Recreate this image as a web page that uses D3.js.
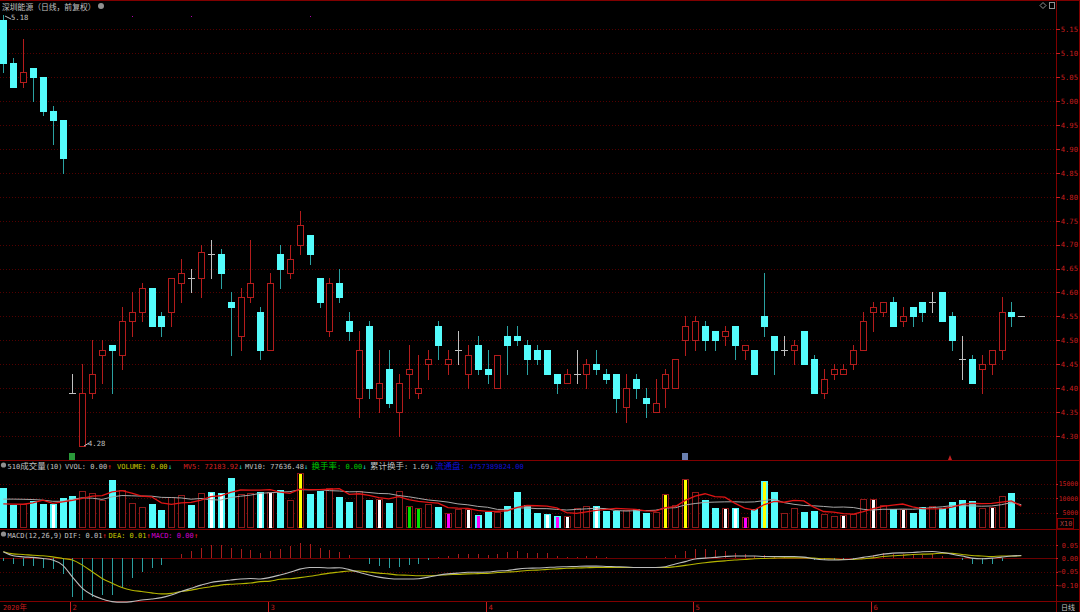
<!DOCTYPE html>
<html><head><meta charset="utf-8">
<script src="https://cdn.jsdelivr.net/npm/d3@7"></script>
<style>body{margin:0;background:#000;overflow:hidden}svg{display:block}</style>
</head><body>
<svg id="c" width="1080" height="612"></svg>
<script>
// ---------------- DATA ----------------
const opens = [5.17,5.08,5.04,5.07,5.05,4.98,4.96,4.39,4.28,4.39, 4.47,4.49,4.47,4.54,4.56,4.61,4.55,4.56,4.62,4.63, 4.63,4.68,4.68,4.58,4.51,4.59,4.56,4.48,4.68,4.64, 4.70,4.72,4.63,4.52,4.62,4.54,4.38,4.53,4.38,4.44, 4.35,4.43,4.39,4.45,4.53,4.45,4.48,4.43,4.49,4.44, 4.40,4.51,4.51,4.49,4.48,4.48,4.43,4.41,4.43,4.43, 4.45,4.43,4.43,4.36,4.42,4.38,4.35,4.40,4.40,4.50, 4.50,4.53,4.52,4.51,4.53,4.48,4.48,4.55,4.51,4.48, 4.48,4.52,4.46,4.39,4.43,4.43,4.45,4.48,4.56,4.56, 4.58,4.54,4.57,4.58,4.58,4.60,4.55,4.46,4.46,4.44, 4.45,4.48,4.56,4.55];
const highs = [5.18,5.09,5.13,5.07,5.05,4.99,4.96,4.43,4.45,4.50, 4.50,4.49,4.57,4.60,4.62,4.61,4.56,4.63,4.67,4.65, 4.70,4.71,4.69,4.60,4.61,4.71,4.57,4.64,4.70,4.70, 4.77,4.72,4.63,4.63,4.65,4.56,4.52,4.54,4.48,4.48, 4.43,4.49,4.47,4.48,4.54,4.48,4.52,4.49,4.51,4.48, 4.47,4.53,4.53,4.50,4.49,4.48,4.43,4.44,4.48,4.46, 4.48,4.44,4.43,4.43,4.43,4.40,4.42,4.44,4.46,4.55, 4.55,4.54,4.52,4.53,4.53,4.49,4.48,4.64,4.51,4.51, 4.50,4.52,4.47,4.44,4.45,4.45,4.49,4.56,4.58,4.58, 4.59,4.57,4.57,4.58,4.60,4.60,4.56,4.51,4.47,4.47, 4.48,4.59,4.58,4.55];
const lows = [5.06,5.03,5.03,5.00,4.97,4.91,4.85,4.39,4.28,4.38, 4.41,4.39,4.44,4.51,4.54,4.53,4.51,4.53,4.58,4.60, 4.59,4.63,4.61,4.47,4.48,4.58,4.46,4.48,4.61,4.63, 4.68,4.66,4.57,4.51,4.58,4.50,4.34,4.38,4.35,4.36, 4.30,4.38,4.38,4.42,4.46,4.43,4.45,4.40,4.43,4.41, 4.40,4.43,4.49,4.43,4.45,4.43,4.39,4.41,4.41,4.40, 4.43,4.41,4.35,4.33,4.38,4.34,4.35,4.36,4.40,4.47, 4.48,4.48,4.48,4.49,4.46,4.46,4.43,4.51,4.43,4.47, 4.45,4.45,4.39,4.38,4.42,4.43,4.44,4.48,4.52,4.55, 4.53,4.53,4.53,4.54,4.56,4.54,4.48,4.42,4.41,4.39, 4.43,4.46,4.53,4.55];
const closes = [5.08,5.03,5.06,5.05,4.98,4.96,4.88,4.39,4.39,4.43, 4.48,4.48,4.54,4.56,4.61,4.53,4.53,4.63,4.64,4.63, 4.685,4.68,4.64,4.57,4.59,4.62,4.48,4.62,4.65,4.67, 4.74,4.68,4.58,4.62,4.59,4.52,4.48,4.40,4.41,4.37, 4.41,4.44,4.40,4.46,4.49,4.46,4.48,4.47,4.44,4.43, 4.47,4.49,4.50,4.46,4.46,4.43,4.41,4.43,4.43,4.45, 4.44,4.42,4.38,4.40,4.40,4.37,4.37,4.43,4.46,4.53, 4.54,4.50,4.50,4.52,4.49,4.49,4.43,4.53,4.48,4.48, 4.49,4.45,4.39,4.42,4.44,4.44,4.48,4.54,4.57,4.58, 4.53,4.55,4.55,4.56,4.58,4.54,4.50,4.46,4.41,4.45, 4.48,4.56,4.55,4.55];
// volume in axis units (x10)
const volumes = [13470,7670,8130,9170,8020,8130,10000,10800,12540,11740, 9310,16250,12880,8260,6880,8020,5830,10210,11040,7570, 11740,12080,11600,16940,11490,11600,12190,12190,12880,9310, 18680,11390,12290,13470,10350,8820,12540,9410,9650,8370, 12540,7330,6630,7920,7080,4790,6390,6290,4310,5350, 5140,7220,11940,7670,4900,4650,3960,3960,6530,7330, 7220,5690,5490,5940,6180,4790,5350,11490,7670,16700, 12190,9410,6630,6740,6530,3400,6290,16010,12190,5000, 6530,5350,5590,4550,3850,4100,4550,9860,9760,7670, 6290,6290,4790,6980,7330,6740,8610,9510,8960,6740, 7080,10800,11740,0];
const mv5Lead = [8000,7950,7900,8400];
const mv10Lead = [9650,9650,9600,9500,9300,8900,8900,9600,10100];
const whiteMarks = [5,21,22,26,27,38,47,55,57,60,73,74,85,88,91,100];
const yellowMarks = [30,67,69,77];
const greenMarks = [41,42];
const magentaMarks = [45,48,56,75];
const difValues = [0.025,0.010,0.006,0.004,0.000,-0.006,-0.025,-0.070,-0.112,-0.137, -0.152,-0.162,-0.164,-0.162,-0.156,-0.152,-0.147,-0.137,-0.124,-0.112, -0.100,-0.090,-0.085,-0.081,-0.077,-0.075,-0.077,-0.071,-0.062,-0.052, -0.040,-0.034,-0.034,-0.036,-0.035,-0.042,-0.052,-0.062,-0.070,-0.075, -0.077,-0.077,-0.076,-0.070,-0.063,-0.058,-0.055,-0.052,-0.052,-0.051, -0.047,-0.045,-0.040,-0.037,-0.036,-0.034,-0.032,-0.031,-0.030,-0.029, -0.029,-0.030,-0.031,-0.032,-0.034,-0.034,-0.034,-0.031,-0.021,-0.012, -0.002,0.001,0.004,0.007,0.009,0.009,0.009,0.007,0.007,0.007, 0.007,0.005,-0.001,-0.005,-0.006,-0.005,-0.002,0.004,0.009,0.016, 0.020,0.021,0.022,0.025,0.026,0.022,0.016,0.009,0.001,-0.001, 0.001,0.005,0.009,0.011];
const deaValues = [0.025,0.017,0.015,0.012,0.010,0.006,0.000,-0.006,-0.025,-0.050, -0.075,-0.093,-0.109,-0.119,-0.124,-0.129,-0.133,-0.131,-0.124,-0.119, -0.112,-0.106,-0.100,-0.097,-0.095,-0.092,-0.087,-0.085,-0.078,-0.076, -0.072,-0.067,-0.061,-0.055,-0.051,-0.047,-0.047,-0.051,-0.055,-0.058, -0.062,-0.063,-0.065,-0.065,-0.063,-0.061,-0.060,-0.058,-0.057,-0.056, -0.053,-0.051,-0.049,-0.045,-0.044,-0.041,-0.039,-0.037,-0.036,-0.035, -0.034,-0.034,-0.034,-0.034,-0.034,-0.034,-0.034,-0.034,-0.031,-0.026, -0.021,-0.016,-0.012,-0.009,-0.006,-0.004,-0.001,0.000,0.001,0.002, 0.002,0.002,0.001,-0.001,-0.002,-0.004,-0.004,-0.001,0.002,0.007, 0.010,0.012,0.015,0.016,0.017,0.020,0.019,0.015,0.011,0.009, 0.007,0.009,0.009,0.010];
const macdValues = [-0.010,-0.022,-0.027,-0.027,-0.037,-0.041,-0.060,-0.143,-0.156,-0.143, -0.137,-0.137,-0.109,-0.075,-0.050,-0.037,-0.025,0.000,0.015,0.027, 0.040,0.050,0.050,0.040,0.037,0.031,0.022,0.027,0.037,0.047, 0.058,0.055,0.040,0.033,0.025,0.012,0.000,-0.021,-0.029,-0.037, -0.031,-0.024,-0.021,-0.007,0.005,0.010,0.017,0.017,0.016,0.014, 0.017,0.025,0.027,0.022,0.020,0.020,0.010,0.007,0.007,0.010, 0.010,0.007,0.000,0.000,0.000,0.000,0.001,0.005,0.014,0.027, 0.037,0.037,0.033,0.027,0.022,0.017,0.010,0.014,0.010,0.005, 0.002,0.000,-0.007,-0.007,-0.007,-0.005,-0.002,0.005,0.014,0.020, 0.017,0.017,0.014,0.014,0.017,0.010,0.000,-0.007,-0.021,-0.019, -0.019,-0.010,0.000,0.000];
const priceTicks = [4.30,4.35,4.40,4.45,4.50,4.55,4.60,4.65,4.70,4.75,4.80,4.85,4.90,4.95,5.00,5.05,5.10,5.15];
const volTicks = [5000,10000,15000];
const macdTicks = [-0.10,-0.05,0.00,0.05];
const monthIdx = [7,27,49,70,88];
const monthLabels = ["2","3","4","5","6"];
const topDotIdx = [13,19,31];

// ---------------- LAYOUT ----------------
const svg = d3.select('#c');
const AX = 1056;
const N = closes.length;
const x = d3.scaleLinear().domain([0, N-1]).range([3.3, 1021.3]);
const yP = d3.scaleLinear().domain([4.30, 5.15]).range([436, 29.3]);
const yV = d3.scaleLinear().domain([0, 15000]).range([527.3, 483.5]);
const yM = d3.scaleLinear().domain([-0.10, 0.05]).range([585.1, 545.1]);
const cx = i => Math.round(x(i));
const R = v => Math.round(v);

const UP = '#b41c1c', UPV = '#8e1a1a', CY = '#54fcfc', CYW = '#2aa2a2', GR = '#c0c0c0', AXC = '#800000', LBL = '#c81e1e', GRID = '#520000';
const MONO = '"DejaVu Sans Mono",monospace', CJK = '"Noto Sans CJK SC",sans-serif';

// text made of half-width (mono) and full-width (CJK) runs
function txt(g, xx, yy, s, fill, aSize=7, cSize=8.5){
  const t = g.append('text').attr('x',xx).attr('y',yy).attr('fill',fill);
  const runs=[];
  for(const ch of s){const cj=ch.charCodeAt(0)>0x2e80; if(runs.length&&runs[runs.length-1].cj===cj) runs[runs.length-1].s+=ch; else runs.push({cj,s:ch});}
  runs.forEach(r=>t.append('tspan').attr('font-family',r.cj?CJK:MONO).attr('font-size',r.cj?cSize:aSize).text(r.s));
  return t;
}

// frame lines
const frame = svg.append('g').attr('shape-rendering','crispEdges');
frame.append('line').attr('x1',0).attr('x2',1080).attr('y1',0.5).attr('y2',0.5).attr('stroke',AXC);
[460.5,529.5,601.5].forEach(yy=>frame.append('line').attr('x1',0).attr('x2',1080).attr('y1',yy).attr('y2',yy).attr('stroke',AXC));
frame.append('line').attr('x1',AX+0.5).attr('x2',AX+0.5).attr('y1',0).attr('y2',612).attr('stroke',AXC);
frame.append('line').attr('x1',1079.5).attr('x2',1079.5).attr('y1',0).attr('y2',612).attr('stroke',AXC);

// grids
const grid = svg.append('g').attr('shape-rendering','crispEdges').attr('stroke',GRID).attr('stroke-dasharray','1,2');
priceTicks.forEach(p=>grid.append('line').attr('x1',0).attr('x2',AX).attr('y1',R(yP(p))+0.5).attr('y2',R(yP(p))+0.5));
volTicks.forEach(v=>grid.append('line').attr('x1',0).attr('x2',AX).attr('y1',R(yV(v))+0.5).attr('y2',R(yV(v))+0.5));
macdTicks.filter(v=>v!==0).forEach(v=>grid.append('line').attr('x1',0).attr('x2',AX).attr('y1',R(yM(v))+0.5).attr('y2',R(yM(v))+0.5));
svg.append('line').attr('x1',0).attr('x2',AX).attr('y1',R(yM(0))+0.5).attr('y2',R(yM(0))+0.5).attr('stroke','#6a0000').attr('shape-rendering','crispEdges');

// axes (labels right-aligned at x=1078)
function styleAxis(g, size){
  g.select('.domain').remove();
  g.selectAll('.tick line').attr('stroke',LBL).attr('shape-rendering','crispEdges');
  g.selectAll('.tick text').attr('fill',LBL).attr('font-family',MONO).attr('font-size',size)
    .attr('text-anchor','end').attr('x',22);
}
const gP = svg.append('g').attr('transform',`translate(${AX},0)`)
  .call(d3.axisRight(yP).tickValues(priceTicks).tickFormat(d3.format('.2f')).tickSize(4));
styleAxis(gP, 7.2);
const gV = svg.append('g').attr('transform',`translate(${AX},0)`)
  .call(d3.axisRight(yV).tickValues(volTicks).tickFormat(d3.format('d')).tickSize(2));
styleAxis(gV, 6.4);
const gM = svg.append('g').attr('transform',`translate(${AX},0)`)
  .call(d3.axisRight(yM).tickValues(macdTicks).tickFormat(d3.format('.2f')).tickSize(2));
styleAxis(gM, 6.8);
txt(svg, 1060, 526, 'X10', '#b04040', 6.8);
svg.append('rect').attr('x',1057.5).attr('y',518.5).attr('width',16).attr('height',10).attr('fill','none').attr('stroke',AXC).attr('shape-rendering','crispEdges');

// ---------------- CANDLES ----------------
const cg = svg.append('g').attr('shape-rendering','crispEdges');
for(let i=0;i<N;i++){
  const o=opens[i],h=highs[i],l=lows[i],c=closes[i];
  const xc=cx(i);
  const yo=R(yP(o)), yc=R(yP(c)), yh=R(yP(h)), yl=R(yP(l));
  if(c>o){
    cg.append('line').attr('x1',xc+0.5).attr('x2',xc+0.5).attr('y1',yh).attr('y2',yc).attr('stroke',UP);
    cg.append('line').attr('x1',xc+0.5).attr('x2',xc+0.5).attr('y1',yo).attr('y2',yl+1).attr('stroke',UP);
    cg.append('rect').attr('x',xc-3+0.5).attr('y',yc+0.5).attr('width',6).attr('height',Math.max(1,yo-yc)).attr('fill','#000').attr('stroke',UP);
  } else if(c<o){
    cg.append('line').attr('x1',xc+0.5).attr('x2',xc+0.5).attr('y1',yh).attr('y2',yl+1).attr('stroke',CYW);
    cg.append('rect').attr('x',xc-3).attr('y',yo).attr('width',7).attr('height',Math.max(1,yc-yo+1)).attr('fill',CY);
  } else {
    cg.append('line').attr('x1',xc+0.5).attr('x2',xc+0.5).attr('y1',yh).attr('y2',yl+1).attr('stroke',GR);
    cg.append('line').attr('x1',xc-3).attr('x2',xc+4).attr('y1',yc+0.5).attr('y2',yc+0.5).attr('stroke',GR);
  }
}
// high / low annotations
const iMax = d3.maxIndex(highs), iMin = d3.minIndex(lows);
svg.append('path').attr('d',`M${cx(iMax)+2},${R(yP(highs[iMax]))+1} l6,3`).attr('stroke',GR).attr('fill','none');
txt(svg, 11, 20, d3.format('.2f')(highs[iMax]), GR, 7.2);
svg.append('path').attr('d',`M${cx(iMin)+2},${R(yP(lows[iMin]))} l5,-3`).attr('stroke',GR).attr('fill','none');
txt(svg, 88, 446, d3.format('.2f')(lows[iMin]), GR, 7.2);
topDotIdx.forEach(i=>svg.append('rect').attr('x',cx(i)).attr('y',16).attr('width',1).attr('height',1).attr('fill','#b000b0'));

// ---------------- VOLUME ----------------
const vg = svg.append('g').attr('shape-rendering','crispEdges');
const y0 = R(yV(0));
function volUp(i){ if(closes[i]>opens[i]) return true; if(closes[i]<opens[i]) return false; return i===0 || closes[i]>=closes[i-1]; }
for(let i=0;i<N;i++){
  if(volumes[i]<=0) continue;
  const xc=cx(i), yt=R(yV(volumes[i]));
  if(volUp(i)){
    vg.append('rect').attr('x',xc-3+0.5).attr('y',yt+0.5).attr('width',6).attr('height',y0-yt).attr('fill','#000').attr('stroke',UPV);
  } else {
    vg.append('rect').attr('x',xc-3).attr('y',yt).attr('width',7).attr('height',y0-yt+1).attr('fill',CY);
  }
}
function stripes(arr,color){arr.forEach(i=>{const xc=cx(i), yt=R(yV(volumes[i])); vg.append('rect').attr('x',xc-1).attr('y',yt+1).attr('width',3).attr('height',y0-yt).attr('fill',color);});}
stripes(whiteMarks,'#ffffff'); stripes(yellowMarks,'#ffff00'); stripes(greenMarks,'#00e000'); stripes(magentaMarks,'#ff00ff');

function movAvg(n, lead){ return volumes.map((v,i)=> i<n-1 ? lead[i] : d3.mean(volumes.slice(i-n+1,i+1))); }
const mv5 = movAvg(5, mv5Lead), mv10 = movAvg(10, mv10Lead);
const vline = d3.line().x((d,i)=>x(i)).y(d=>yV(d));
svg.append('path').datum(mv10).attr('d',vline).attr('fill','none').attr('stroke','#a8a8a8').attr('stroke-width',1);
svg.append('path').datum(mv5).attr('d',vline).attr('fill','none').attr('stroke','#e01414').attr('stroke-width',1.3);

// ---------------- MACD ----------------
const mg = svg.append('g').attr('shape-rendering','crispEdges');
const ym0 = R(yM(0));
macdValues.forEach((v,i)=>{
  if(Math.abs(v)<0.0005) return;
  const yy=R(yM(v));
  mg.append('line').attr('x1',cx(i)+0.5).attr('x2',cx(i)+0.5).attr('y1',ym0).attr('y2',yy).attr('stroke', v>0? '#a81c1c' : '#2a9e9e');
});
const mline = d3.line().x((d,i)=>x(i)).y(d=>yM(d)).curve(d3.curveMonotoneX);
svg.append('path').datum(deaValues).attr('d',mline).attr('fill','none').attr('stroke','#b4b400').attr('stroke-width',1.1);
svg.append('path').datum(difValues).attr('d',mline).attr('fill','none').attr('stroke','#bcbcbc').attr('stroke-width',1.1);

// ---------------- TEXTS ----------------
txt(svg, 2, 10, '深圳能源（日线，前复权）', GR, 7, 7.8);
svg.append('circle').attr('cx',101).attr('cy',6).attr('r',3).attr('fill','#909090');
svg.append('path').attr('d','M1040,5.5 l3,-3 l3,3 l-3,3z').attr('fill','none').attr('stroke','#909090');
svg.append('rect').attr('x',1049.5).attr('y',2.5).attr('width',5).attr('height',6).attr('fill','none').attr('stroke','#909090');

// volume header
svg.append('circle').attr('cx',3.5).attr('cy',465).attr('r',2.6).attr('fill','#909090');
const hy=468.5;
txt(svg, 7.5, hy, '510成交量(10)', GR);
txt(svg, 65, hy, 'VVOL: 0.00', GR); txt(svg, 107.5, hy, '↑', '#ff2020');
txt(svg, 117, hy, 'VOLUME: 0.00', '#c8c800'); txt(svg, 168, hy, '↓', '#20d0d0');
txt(svg, 183.5, hy, 'MV5: 72183.92', '#d82020'); txt(svg, 238.5, hy, '↓', '#20d0d0');
txt(svg, 245, hy, 'MV10: 77636.48', GR); txt(svg, 304, hy, '↓', '#20d0d0');
txt(svg, 311.5, hy, '换手率: 0.00', '#00c800'); txt(svg, 362.5, hy, '↓', '#20d0d0');
txt(svg, 370, hy, '累计换手: 1.69', GR); txt(svg, 429.5, hy, '↓', '#20d0d0');
txt(svg, 435, hy, '流通盘: 4757389824.00', '#1010d8');

// macd header
svg.append('circle').attr('cx',3.5).attr('cy',534).attr('r',2.6).attr('fill','#909090');
const my=537.5;
txt(svg, 7.5, my, 'MACD(12,26,9)', GR);
txt(svg, 64.5, my, 'DIF: 0.01', GR); txt(svg, 102.5, my, '↑', '#ff2020');
txt(svg, 108.5, my, 'DEA: 0.01', '#c8c800'); txt(svg, 146.5, my, '↑', '#ff2020');
txt(svg, 151.5, my, 'MACD: 0.00', '#d000d0'); txt(svg, 194, my, '↑', '#ff2020');

// event markers
svg.append('rect').attr('x',69).attr('y',453).attr('width',6).attr('height',7).attr('fill','#2a9a3a');
svg.append('rect').attr('x',682).attr('y',453).attr('width',6).attr('height',7).attr('fill','#6a80b0');
svg.append('path').attr('d','M948,460 l2,-5 l2,5z').attr('fill','#c02020');

// bottom date axis
const bg = svg.append('g');
txt(bg, 3, 610, '2020年', LBL, 6.8, 7.5);
monthIdx.forEach((mi,k)=>{
  bg.append('line').attr('x1',cx(mi)-1.5).attr('x2',cx(mi)-1.5).attr('y1',602).attr('y2',612).attr('stroke',LBL).attr('shape-rendering','crispEdges');
  txt(bg, cx(mi)+0.5, 610, monthLabels[k], LBL, 7.2);
});
txt(bg, 1061, 610, '日线', GR, 7, 7);
</script>
</body></html>
